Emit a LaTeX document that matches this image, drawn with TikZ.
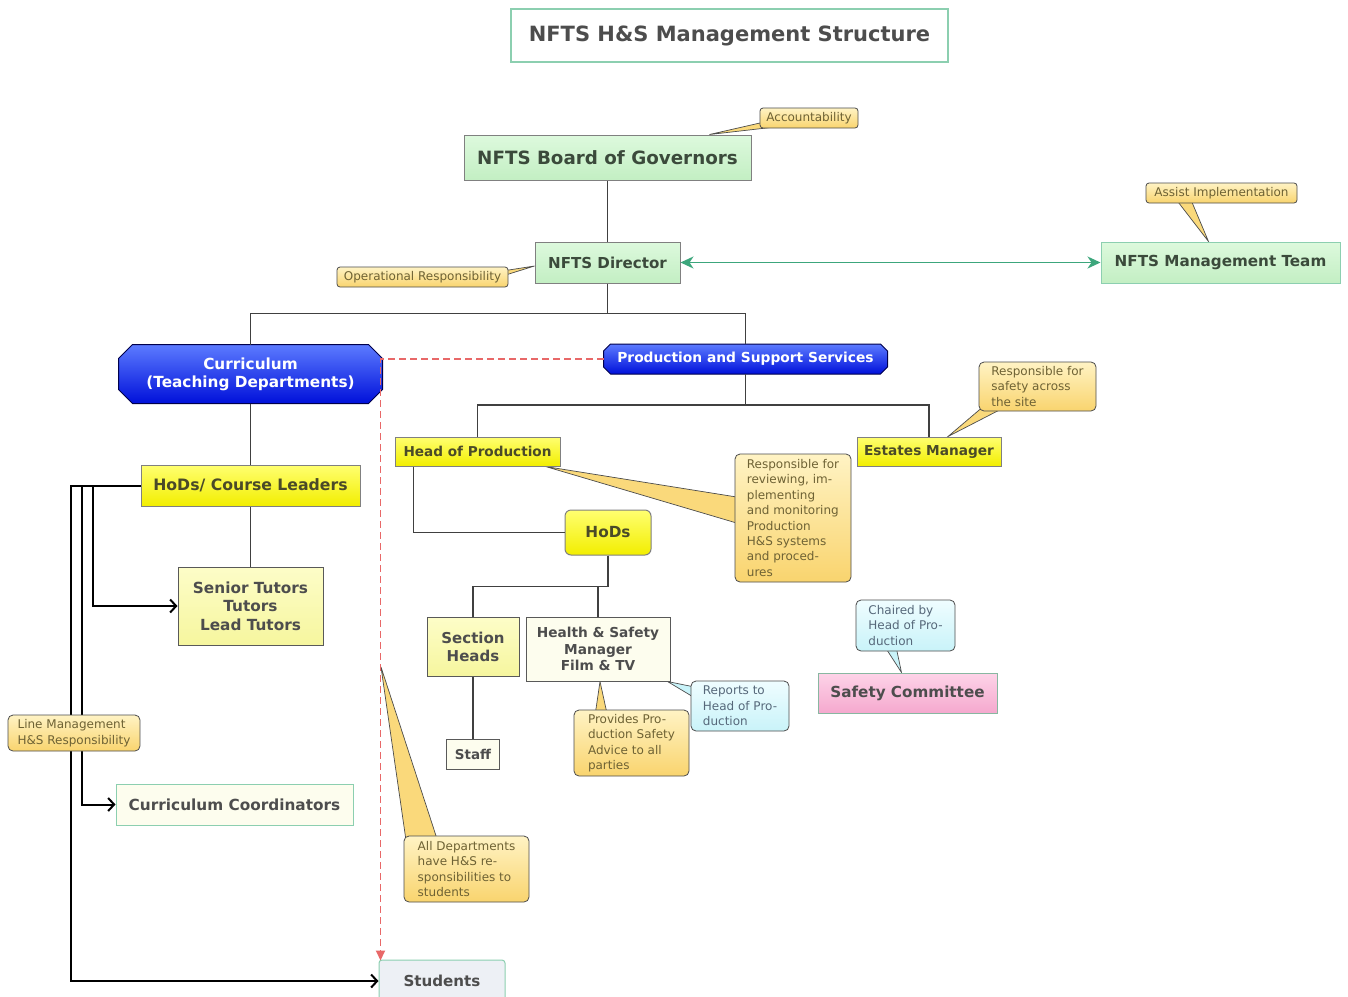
\documentclass[tikz,border=0pt]{standalone}
\usepackage{fontspec}
\setmainfont{DejaVu Sans}
\usetikzlibrary{arrows.meta,positioning,calc,backgrounds}

\definecolor{gTop}{HTML}{DDF9DD}
\definecolor{gBot}{HTML}{C3EFC3}
\definecolor{gText}{HTML}{3B4A3B}
\definecolor{yTop}{HTML}{FFFF70}
\definecolor{yBot}{HTML}{F2EE00}
\definecolor{pTop}{HTML}{FDFDC8}
\definecolor{pBot}{HTML}{F6F69E}
\definecolor{wFill}{HTML}{FDFDEE}
\definecolor{bTop}{HTML}{5C7BFF}
\definecolor{bBot}{HTML}{0010DA}
\definecolor{nTop}{HTML}{FFF3C4}
\definecolor{nBot}{HTML}{F9D46E}
\definecolor{cTop}{HTML}{EFFDFF}
\definecolor{cBot}{HTML}{C9F3F9}
\definecolor{kTop}{HTML}{FDD3E8}
\definecolor{kBot}{HTML}{F5A9CE}
\definecolor{sFill}{HTML}{EDF0F5}
\definecolor{edgeGreen}{HTML}{8CCFB0}
\definecolor{arrowGreen}{HTML}{3CA67C}
\definecolor{dashRed}{HTML}{E86868}
\definecolor{darkText}{HTML}{4D4D4D}
\definecolor{oliveText}{HTML}{4A4A28}
\definecolor{noteText}{HTML}{6E6234}
\definecolor{cyanText}{HTML}{56687A}

\tikzset{base box/.style={rectangle,line width=1pt,inner sep=0pt,align=center},
         bsize/.style 2 args={font=\fontsize{#1}{#2}\selectfont\bfseries},
         title box/.style={base box,draw=edgeGreen,fill=white,line width=1.3pt,text=darkText,bsize={21}{25}},
         green box/.style={base box,draw=black!50,top color=gTop,bottom color=gBot,text=gText},
         yellow box/.style={base box,draw=black!50,top color=yTop,bottom color=yBot,text=oliveText},
         pale box/.style={base box,draw=black!65,top color=pTop,bottom color=pBot,text=darkText},
         white box/.style={base box,draw=black!65,fill=wFill,text=darkText},
         pink box/.style={base box,draw=edgeGreen!70!gray,top color=kTop,bottom color=kBot,text=darkText},
         blue box/.style={base box,text=white},
         blue shape/.style={draw=blue!30!black,line width=1pt,top color=bTop,bottom color=bBot},
         note box/.style={rectangle,rounded corners=5pt,draw=black!70,line width=0.8pt,top color=nTop,bottom color=nBot,
                          text=noteText,align=left,inner sep=0pt,font=\fontsize{12}{15.4}\selectfont},
         cyan note/.style={note box,top color=cTop,bottom color=cBot,text=cyanText},
         note tail/.style={draw=black!70,line width=0.7pt,fill=nBot!85!nTop},
         cyan tail/.style={note tail,fill=cBot},
         link/.style={draw=black!75,line width=1.2pt},
         lm arrow/.style={draw=black,line width=2pt,-{Straight Barb[length=6pt,width=13pt]}},
}

% chamfered outline round a blue node: node name, corner size
\newcommand{\chamfer}[2]{%
  \path[blue shape] ($(#1.north west)+(#2,0)$) -- ($(#1.north east)+(-#2,0)$) -- ($(#1.north east)+(0,#2)$)
    -- ($(#1.south east)+(0,-#2)$) -- ($(#1.south east)+(-#2,0)$) -- ($(#1.south west)+(#2,0)$)
    -- ($(#1.south west)+(0,-#2)$) -- ($(#1.north west)+(0,#2)$) -- cycle;}

\begin{document}
\begin{tikzpicture}[x=1pt,y=-1pt]

\useasboundingbox (0,0) rectangle (1348,996);

% top of the structure
\node[title box,minimum width=437,minimum height=53] (t_title) at (729.5,35.5) {NFTS H\&S Management Structure};

\node[green box,bsize={18.3}{22},minimum width=287,minimum height=45] (n_board) at (607.5,157.5) {NFTS Board of Governors};
\node[green box,bsize={15.1}{18},minimum width=145,minimum height=41] (n_dir) at (607.5,262.5) {NFTS Director};
\node[green box,draw=edgeGreen,bsize={15.2}{18},minimum width=239,minimum height=41] (n_mgmt) at (1220.5,262.5) {NFTS Management Team};

\node[note box,rounded corners=3pt,minimum width=98,minimum height=20] (c_acc) at (809,118) {Accountability};
\node[note box,rounded corners=3pt,minimum width=171,minimum height=20] (c_oper) at (422.5,277) {Operational Responsibility};
\node[note box,rounded corners=3pt,minimum width=151,minimum height=20] (c_assist) at (1221.5,193) {Assist Implementation};

% the two branches
\node[blue box,bsize={15.3}{18},minimum width=263,minimum height=58] (n_curr) at (250.5,374) {Curriculum\\(Teaching Departments)};
\node[blue box,bsize={13.8}{16},minimum width=283,minimum height=29] (n_pss) at (745.5,359) {Production and Support Services};

% production side
\node[yellow box,bsize={13.6}{16},minimum width=165,minimum height=29] (n_hop) at (477.5,451.5) {Head of Production};
\node[yellow box,bsize={13.7}{16},minimum width=144,minimum height=29] (n_est) at (929,451.5) {Estates Manager};
\node[yellow box,rounded corners=6pt,bsize={15.3}{18},minimum width=86,minimum height=45] (n_hods) at (608,532.5) {HoDs};
\node[pale box,bsize={15}{18},minimum width=92,minimum height=59] (n_sect) at (473,646.5) {Section\\Heads};
\node[white box,bsize={13.5}{16},minimum width=53,minimum height=30,below=62pt of n_sect] (n_staff) {Staff};
\node[white box,bsize={13.7}{16.5},minimum width=144,minimum height=64] (n_hsm) at (598,649) {Health \& Safety\\Manager\\Film \& TV};
\node[pink box,bsize={15.2}{18},minimum width=179,minimum height=40] (n_safe) at (907.5,693) {Safety Committee};

\node[note box,minimum width=117,minimum height=49] (c_site) at (1037.5,386.5) {Responsible for\\safety across\\the site};
\node[note box,minimum width=116,minimum height=128] (c_review) at (793,518) {Responsible for\\reviewing, im-\\plementing\\and monitoring\\Production\\H\&S systems\\and proced-\\ures};
\node[note box,minimum width=115,minimum height=66] (c_prov) at (631.5,743) {Provides Pro-\\duction Safety\\Advice to all\\parties};
\node[cyan note,minimum width=98,minimum height=50] (c_rep) at (740,706) {Reports to\\Head of Pro-\\duction};
\node[cyan note,minimum width=99,minimum height=51] (c_chair) at (905.5,625.5) {Chaired by\\Head of Pro-\\duction};

% curriculum side
\node[yellow box,bsize={15.7}{18},minimum width=219,minimum height=41] (n_hodcl) at (250.5,485.5) {HoDs/ Course Leaders};
\node[pale box,bsize={15.3}{18.5},minimum width=145,minimum height=78] (n_tutors) at (250.5,606) {Senior Tutors\\Tutors\\Lead Tutors};
\node[white box,draw=edgeGreen,bsize={15.3}{18},minimum width=237,minimum height=41] (n_coord) at (234.5,804.5) {Curriculum Coordinators};
\node[white box,draw=edgeGreen,rounded corners=3pt,fill=sFill,bsize={15.1}{18},minimum width=126,minimum height=42] (n_stud) at (442,981) {Students};
\node[note box,minimum width=125,minimum height=66] (c_alldep) at (466.5,869) {All Departments\\have H\&S re-\\sponsibilities to\\students};

\coordinate (d_tip) at (381,667);

% blue shapes and tails of the notes
\begin{pgfonlayer}{background}
\fill[white] (0,0) rectangle (1348,996);
\chamfer{n_curr}{14}
\chamfer{n_pss}{7}
\filldraw[note tail] ($(c_acc.south west)+(3,-6)$) -- ($(n_board.north)+(102,0)$) -- ($(c_acc.south west)+(12,-1)$) -- cycle;
\filldraw[note tail] ($(c_oper.east)+(-6,-6)$) -- ($(n_dir.west)+(0,3.5)$) -- ($(c_oper.east)+(-6,-1)$) -- cycle;
\filldraw[note tail] ($(c_assist.south west)+(32,-2)$) -- ($(n_mgmt.north west)+(108,0)$) -- ($(c_assist.south west)+(46,-2)$) -- cycle;
\filldraw[note tail] ($(c_site.south west)+(6,-6)$) -- ($(n_est.north)+(19,0)$) -- ($(c_site.south west)+(22,-2)$) -- cycle;
\filldraw[note tail] ($(c_review.west)+(2,-21)$) -- ($(n_hop.south east)+(-15,0)$) -- ($(c_review.west)+(2,5)$) -- cycle;
\filldraw[note tail] ($(c_prov.north west)+(22,2)$) -- ($(n_hsm.south)+(2,0)$) -- ($(c_prov.north west)+(33,2)$) -- cycle;
\filldraw[cyan tail] ($(c_rep.north west)+(2,6)$) -- ($(n_hsm.south east)+(-3,0)$) -- ($(c_rep.north west)+(2,16)$) -- cycle;
\filldraw[cyan tail] ($(c_chair.south west)+(31,-2)$) -- ($(n_safe.north)+(-6,0)$) -- ($(c_chair.south west)+(41,-2)$) -- cycle;
\filldraw[note tail] ($(c_alldep.north west)+(2,2)$) -- (d_tip) -- ($(c_alldep.north west)+(33,2)$) -- cycle;
\end{pgfonlayer}

% tree lines
\draw[link] (n_board.south) -- (n_dir.north);
\draw[link] (n_dir.south) -- ++(0,30) -| (n_curr.north);
\draw[link] (n_dir.south) -- ++(0,30) -| (n_pss.north);
\draw[link] (n_pss.south) -- ++(0,31) -| (n_hop.north);
\draw[link] (n_pss.south) -- ++(0,31) -| (n_est.north);
\draw[link] ($(n_hop.south west)+(19,0)$) |- (n_hods.west);
\draw[link] (n_hods.south) -- ++(0,31) -| (n_sect.north);
\draw[link] (n_hods.south) -- ++(0,31) -| (n_hsm.north);
\draw[link] (n_sect.south) -- (n_staff.north);
\draw[link] (n_curr.south) -- (n_hodcl.north);
\draw[link] (n_hodcl.south) -- (n_tutors.north);

\draw[arrowGreen,line width=1.6pt,{Stealth[length=13pt,width=12pt,inset=4pt]}-{Stealth[length=13pt,width=12pt,inset=4pt]}] (n_dir.east) -- (n_mgmt.west);

% line management
\draw[lm arrow] (n_hodcl.west) -- ++(-48,0) |- (n_tutors.west);
\draw[lm arrow] (n_hodcl.west) -- ++(-59,0) |- (n_coord.west);
\draw[lm arrow] (n_hodcl.west) -- ++(-70,0) |- (n_stud.west);

\draw[dashRed,line width=1.8pt,dash pattern=on 7pt off 4pt,-{Triangle[length=10pt,width=9pt]}] (n_pss.west) -| ($(n_stud.north west)+(2,1)$);

\node[note box,minimum width=132,minimum height=36] (c_line) at (74,733) {Line Management\\H\&S Responsibility};

\end{tikzpicture}
\end{document}
